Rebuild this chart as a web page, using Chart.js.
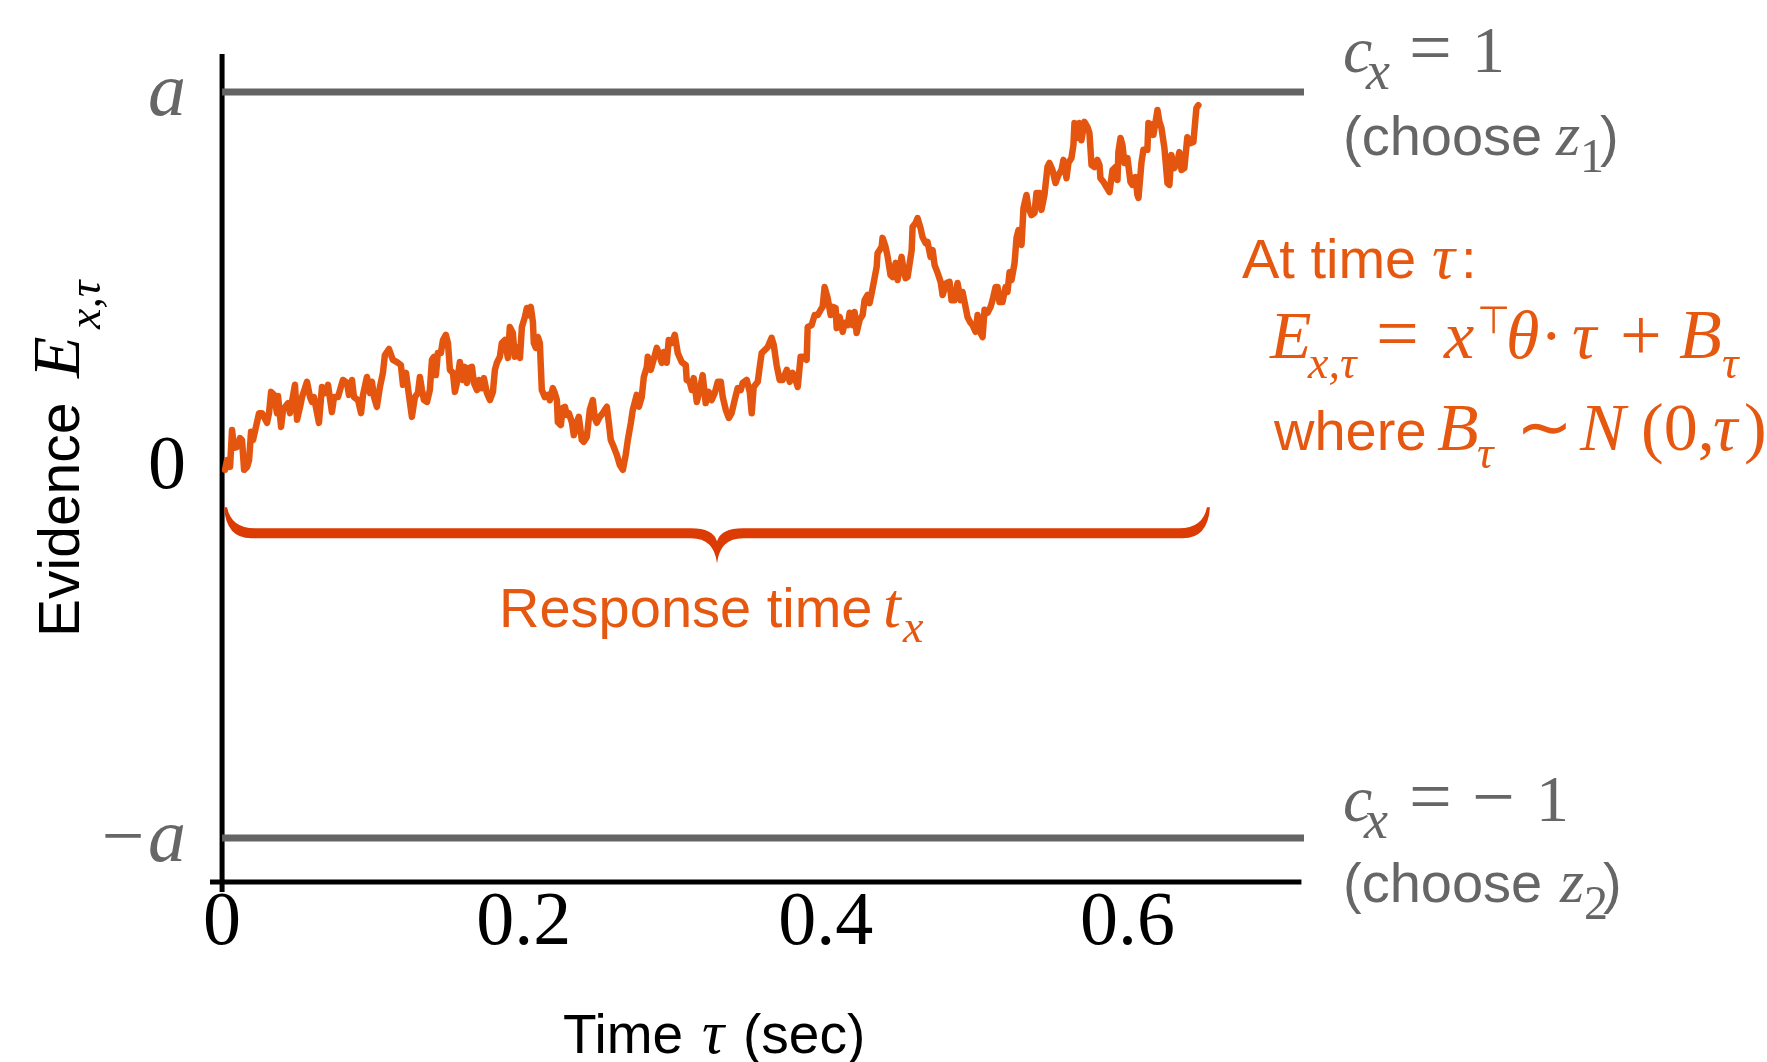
<!DOCTYPE html>
<html>
<head>
  <title>Evidence accumulation</title>
  <style>
html, body { margin: 0; padding: 0; background: #fff; overflow: hidden; }
#evidenceChart { display: block; }
  </style>
  <script src="https://cdn.jsdelivr.net/npm/chart.js@4.4.0/dist/chart.umd.min.js"></script>
</head>
<body>
  <canvas id="evidenceChart" width="1767" height="1062" style="width:1767px;height:1062px;"></canvas>
  <script type="text/javascript">
    // time axis (sec) and its ticks
    var xTicks = [0, 0.2, 0.4, 0.6];
    var xTickText = ['0', '0.2', '0.4', '0.6'];
    // evidence axis, in units of the bound a
    var yTicks = [-1, 0, 1];
    var yTickText = ['\u2212a', '0', 'a'];
    var bounds = [1.008, -0.992];   // +a and -a as drawn
    var boundSpan = [0, 0.717];     // bound lines run from t=0 to the right edge
    var responseSpan = [0.002, 0.654]; // the brace under the path
    var braceLevel = -0.175;

    // evidence path E(x,tau)
    var tSec = [
      0.0020,0.0033,0.0053,0.0066,0.0079,0.0099,0.0119,0.0132,0.0146,0.0166,
      0.0179,0.0192,0.0205,0.0232,0.0245,0.0265,0.0298,0.0311,0.0325,0.0344,
      0.0364,0.0371,0.0391,0.0404,0.0437,0.0450,0.0483,0.0497,0.0517,0.0530,
      0.0563,0.0583,0.0596,0.0609,0.0642,0.0662,0.0682,0.0702,0.0728,0.0742,
      0.0768,0.0801,0.0828,0.0841,0.0861,0.0874,0.0901,0.0921,0.0934,0.0960,
      0.0980,0.0993,0.1007,0.1026,0.1046,0.1066,0.1079,0.1106,0.1132,0.1159,
      0.1185,0.1199,0.1219,0.1238,0.1258,0.1278,0.1298,0.1311,0.1325,0.1338,
      0.1358,0.1377,0.1391,0.1404,0.1417,0.1430,0.1450,0.1464,0.1483,0.1497,
      0.1510,0.1530,0.1543,0.1556,0.1576,0.1596,0.1609,0.1623,0.1636,0.1656,
      0.1669,0.1689,0.1702,0.1722,0.1735,0.1755,0.1775,0.1795,0.1808,0.1821,
      0.1841,0.1854,0.1874,0.1894,0.1907,0.1927,0.1940,0.1954,0.1974,0.1987,
      0.2007,0.2020,0.2033,0.2046,0.2060,0.2066,0.2079,0.2093,0.2106,0.2119,
      0.2139,0.2159,0.2172,0.2192,0.2205,0.2219,0.2225,0.2245,0.2258,0.2272,
      0.2285,0.2298,0.2318,0.2331,0.2351,0.2364,0.2384,0.2397,0.2417,0.2437,
      0.2457,0.2470,0.2483,0.2503,0.2523,0.2536,0.2550,0.2563,0.2576,0.2596,
      0.2616,0.2636,0.2656,0.2675,0.2689,0.2709,0.2722,0.2748,0.2762,0.2781,
      0.2795,0.2815,0.2821,0.2841,0.2854,0.2881,0.2894,0.2914,0.2927,0.2947,
      0.2960,0.2980,0.3000,0.3020,0.3046,0.3073,0.3079,0.3099,0.3113,0.3126,
      0.3146,0.3166,0.3185,0.3205,0.3225,0.3245,0.3265,0.3285,0.3305,0.3318,
      0.3338,0.3358,0.3377,0.3397,0.3417,0.3437,0.3450,0.3477,0.3497,0.3510,
      0.3523,0.3550,0.3563,0.3576,0.3596,0.3616,0.3642,0.3656,0.3675,0.3695,
      0.3715,0.3742,0.3762,0.3781,0.3801,0.3815,0.3834,0.3848,0.3874,0.3881,
      0.3907,0.3927,0.3947,0.3967,0.3980,0.3993,0.4013,0.4033,0.4046,0.4066,
      0.4073,0.4093,0.4113,0.4126,0.4146,0.4159,0.4179,0.4192,0.4205,0.4225,
      0.4245,0.4258,0.4278,0.4291,0.4305,0.4318,0.4338,0.4344,0.4371,0.4377,
      0.4397,0.4411,0.4430,0.4444,0.4464,0.4477,0.4503,0.4517,0.4530,0.4543,
      0.4570,0.4576,0.4596,0.4609,0.4629,0.4642,0.4662,0.4675,0.4695,0.4709,
      0.4722,0.4742,0.4762,0.4775,0.4801,0.4821,0.4834,0.4854,0.4874,0.4894,
      0.4907,0.4927,0.4940,0.4960,0.4974,0.4993,0.5007,0.5026,0.5040,0.5053,
      0.5073,0.5093,0.5106,0.5126,0.5139,0.5152,0.5172,0.5192,0.5205,0.5219,
      0.5232,0.5252,0.5265,0.5278,0.5298,0.5311,0.5331,0.5344,0.5364,0.5384,
      0.5397,0.5417,0.5430,0.5450,0.5470,0.5483,0.5503,0.5523,0.5543,0.5563,
      0.5576,0.5596,0.5609,0.5629,0.5642,0.5649,0.5669,0.5682,0.5695,0.5715,
      0.5735,0.5748,0.5762,0.5781,0.5801,0.5815,0.5821,0.5841,0.5861,0.5881,
      0.5901,0.5921,0.5934,0.5940,0.5954,0.5967,0.5980,0.6000,0.6020,0.6033,
      0.6053,0.6066,0.6073,0.6093,0.6106,0.6132,0.6139,0.6159,0.6172,0.6199,
      0.6212,0.6225,0.6245,0.6265,0.6278,0.6291,0.6311,0.6331,0.6344,0.6358,
      0.6377,0.6397,0.6417,0.6437,0.6457,0.6470
    ];
    var evid = [
      -0.005,0.021,0.003,0.102,0.054,0.056,0.080,0.075,-0.005,0.003,
      0.021,0.097,0.075,0.123,0.147,0.147,0.121,0.147,0.204,0.196,
      0.147,0.193,0.110,0.156,0.174,0.147,0.223,0.129,0.164,0.190,
      0.231,0.190,0.177,0.190,0.121,0.217,0.201,0.223,0.150,0.190,
      0.190,0.236,0.228,0.196,0.236,0.190,0.182,0.147,0.196,0.244,
      0.201,0.231,0.190,0.164,0.217,0.255,0.303,0.319,0.290,0.284,
      0.276,0.223,0.255,0.196,0.137,0.190,0.201,0.244,0.209,0.182,
      0.177,0.209,0.290,0.298,0.249,0.308,0.308,0.343,0.357,0.335,
      0.263,0.255,0.204,0.228,0.284,0.236,0.271,0.228,0.268,0.271,
      0.228,0.209,0.236,0.214,0.241,0.201,0.182,0.204,0.263,0.282,
      0.298,0.335,0.343,0.295,0.378,0.362,0.298,0.324,0.295,0.378,
      0.405,0.429,0.410,0.432,0.391,0.335,0.322,0.351,0.335,0.209,
      0.190,0.196,0.182,0.214,0.201,0.182,0.123,0.115,0.161,0.164,
      0.142,0.147,0.123,0.088,0.123,0.137,0.075,0.070,0.083,0.156,
      0.182,0.134,0.121,0.137,0.147,0.156,0.164,0.121,0.075,0.056,
      0.035,0.008,-0.005,0.035,0.075,0.121,0.156,0.196,0.164,0.190,
      0.244,0.271,0.298,0.263,0.282,0.322,0.308,0.282,0.311,0.282,
      0.343,0.335,0.357,0.308,0.284,0.276,0.236,0.231,0.209,0.241,
      0.177,0.209,0.249,0.174,0.204,0.182,0.201,0.231,0.231,0.190,
      0.156,0.134,0.147,0.182,0.214,0.209,0.228,0.236,0.204,0.147,
      0.217,0.231,0.271,0.308,0.316,0.324,0.349,0.330,0.276,0.236,
      0.236,0.263,0.231,0.255,0.236,0.217,0.298,0.298,0.290,0.378,
      0.383,0.410,0.410,0.424,0.432,0.485,0.456,0.410,0.432,0.429,
      0.375,0.405,0.365,0.389,0.383,0.416,0.383,0.418,0.362,0.397,
      0.410,0.450,0.464,0.442,0.469,0.496,0.539,0.576,0.593,0.617,
      0.593,0.566,0.517,0.512,0.550,0.504,0.566,0.531,0.509,0.512,
      0.584,0.646,0.657,0.670,0.643,0.619,0.603,0.606,0.566,0.584,
      0.544,0.523,0.499,0.464,0.496,0.499,0.450,0.450,0.496,0.450,
      0.472,0.432,0.405,0.389,0.383,0.365,0.410,0.362,0.351,0.424,
      0.416,0.432,0.450,0.485,0.485,0.445,0.445,0.485,0.472,0.525,
      0.504,0.550,0.617,0.638,0.598,0.697,0.732,0.697,0.678,0.684,
      0.737,0.737,0.692,0.732,0.807,0.818,0.799,0.764,0.786,0.799,
      0.826,0.777,0.818,0.831,0.866,0.925,0.885,0.925,0.879,0.928,
      0.914,0.898,0.812,0.807,0.826,0.812,0.777,0.767,0.753,0.740,
      0.799,0.807,0.772,0.847,0.885,0.866,0.818,0.831,0.767,0.759,
      0.780,0.732,0.724,0.820,0.853,0.853,0.925,0.920,0.893,0.960,
      0.928,0.912,0.858,0.764,0.759,0.839,0.804,0.820,0.847,0.799,
      0.804,0.887,0.871,0.874,0.965,0.973
    ];

    var SERIF = '"Liberation Serif", "Times New Roman", serif';
    var SANS = '"Liberation Sans", Arial, Helvetica, sans-serif';
    var GRAY = '#666666';
    var ORANGE = '#E6570F';

    var X_MIN = -0.008, X_MAX = 0.717;
    var Y_MIN = -1.137, Y_MAX = 1.11;
    var X_SPINE_LEVEL = -1.11, X_SPINE_END = 0.7153;

    function put(ctx, s, x, y, font, color) {
      ctx.font = font;
      ctx.fillStyle = color;
      ctx.fillText(s, x, y);
    }

    // offset spines like the original (drawn through the scales)
    var spines = {
      id: 'spines',
      beforeDatasetsDraw: function(chart) {
        var ctx = chart.ctx, xs = chart.scales.x, ys = chart.scales.y;
        ctx.save();
        ctx.strokeStyle = '#000';
        ctx.lineWidth = 5;
        ctx.beginPath();
        var x0 = xs.getPixelForValue(0);
        ctx.moveTo(x0, ys.getPixelForValue(Y_MAX));
        ctx.lineTo(x0, ys.getPixelForValue(Y_MIN));
        var yb = ys.getPixelForValue(X_SPINE_LEVEL);
        ctx.moveTo(xs.getPixelForValue(X_MIN), yb);
        ctx.lineTo(xs.getPixelForValue(X_SPINE_END), yb);
        ctx.stroke();
        ctx.restore();
      }
    };

    var notes = {
      id: 'notes',
      afterDraw: function(chart) {
        var ctx = chart.ctx, xs = chart.scales.x, ys = chart.scales.y;
        ctx.save();

        // brace under the path
        var bx0 = xs.getPixelForValue(responseSpan[0]);
        var bx1 = xs.getPixelForValue(responseSpan[1]);
        var bm = (bx0 + bx1) / 2;
        var by = ys.getPixelForValue(braceLevel);
        var h = 5, r = 26, up = 26, tip = 30;
        ctx.fillStyle = '#DC3B03';
        ctx.beginPath();
        ctx.moveTo(bx0 - 1, by - up);
        ctx.quadraticCurveTo(bx0 + 1, by + h, bx0 + r, by + h);
        ctx.lineTo(bm - r, by + h);
        ctx.quadraticCurveTo(bm - 3, by + h, bm, by + tip);
        ctx.quadraticCurveTo(bm + 3, by + h, bm + r, by + h);
        ctx.lineTo(bx1 - r, by + h);
        ctx.quadraticCurveTo(bx1 - 1, by + h, bx1 + 1, by - up);
        ctx.lineTo(bx1 - 2, by - up);
        ctx.quadraticCurveTo(bx1 - 6, by - h, bx1 - r - 4, by - h);
        ctx.lineTo(bm + r, by - h);
        ctx.quadraticCurveTo(bm + 4, by - h, bm, by + 8);
        ctx.quadraticCurveTo(bm - 4, by - h, bm - r, by - h);
        ctx.lineTo(bx0 + r + 4, by - h);
        ctx.quadraticCurveTo(bx0 + 6, by - h, bx0 + 2, by - up);
        ctx.closePath();
        ctx.fill();

        ctx.textBaseline = 'alphabetic';
        ctx.textAlign = 'left';

        // "Response time t_x"
        put(ctx, 'Response time', 499, 627, '56px ' + SANS, ORANGE);
        put(ctx, 't', 883, 627, 'italic 64px ' + SERIF, ORANGE);
        put(ctx, 'x', 903, 642, 'italic 46px ' + SERIF, ORANGE);

        // upper bound label
        put(ctx, 'c', 1343, 72, 'italic 66px ' + SERIF, GRAY);
        put(ctx, 'x', 1366, 89, 'italic 54px ' + SERIF, GRAY);
        put(ctx, '=', 1409, 73, '76px ' + SERIF, GRAY);
        put(ctx, '1', 1472, 72, '66px ' + SERIF, GRAY);
        put(ctx, '(choose', 1343, 155, '56px ' + SANS, GRAY);
        put(ctx, 'z', 1556, 155, 'italic 62px ' + SERIF, GRAY);
        put(ctx, '1', 1580, 172, '48px ' + SERIF, GRAY);
        put(ctx, ')', 1600, 155, '56px ' + SANS, GRAY);

        // lower bound label
        put(ctx, 'c', 1343, 821, 'italic 66px ' + SERIF, GRAY);
        put(ctx, 'x', 1364, 838, 'italic 54px ' + SERIF, GRAY);
        put(ctx, '=', 1409, 822, '76px ' + SERIF, GRAY);
        put(ctx, '\u2212', 1472, 822, '76px ' + SERIF, GRAY);
        put(ctx, '1', 1536, 821, '66px ' + SERIF, GRAY);
        put(ctx, '(choose', 1343, 902, '56px ' + SANS, GRAY);
        put(ctx, 'z', 1560, 902, 'italic 62px ' + SERIF, GRAY);
        put(ctx, '2', 1584, 919, '48px ' + SERIF, GRAY);
        put(ctx, ')', 1603, 902, '56px ' + SANS, GRAY);

        // model annotation
        put(ctx, 'At time', 1242, 278, '56px ' + SANS, ORANGE);
        put(ctx, '\u03c4', 1432, 278, 'italic 64px ' + SERIF, ORANGE);
        put(ctx, ':', 1461, 278, '56px ' + SANS, ORANGE);

        put(ctx, 'E', 1270, 358, 'italic 68px ' + SERIF, ORANGE);
        put(ctx, 'x,\u03c4', 1308, 378, 'italic 46px ' + SERIF, ORANGE);
        put(ctx, '=', 1376, 359, '76px ' + SERIF, ORANGE);
        put(ctx, 'x', 1444, 358, 'italic 68px ' + SERIF, ORANGE);
        put(ctx, '\u22a4', 1477, 333, '38px "DejaVu Sans", sans-serif', ORANGE);
        put(ctx, '\u03b8', 1506, 358, 'italic 68px ' + SERIF, ORANGE);
        put(ctx, '\u00b7', 1540, 358, '68px ' + SERIF, ORANGE);
        put(ctx, '\u03c4', 1572, 358, 'italic 68px ' + SERIF, ORANGE);
        put(ctx, '+', 1620, 360, '74px ' + SERIF, ORANGE);
        put(ctx, 'B', 1679, 358, 'italic 70px ' + SERIF, ORANGE);
        put(ctx, '\u03c4', 1722, 378, 'italic 46px ' + SERIF, ORANGE);

        put(ctx, 'where', 1274, 450, '56px ' + SANS, ORANGE);
        put(ctx, 'B', 1437, 450, 'italic 68px ' + SERIF, ORANGE);
        put(ctx, '\u03c4', 1477, 468, 'italic 46px ' + SERIF, ORANGE);
        put(ctx, '\u223c', 1516, 450, '68px ' + SERIF, ORANGE);
        put(ctx, 'N', 1580, 450, 'italic 68px ' + SERIF, ORANGE);
        put(ctx, '(0,', 1641, 450, '68px ' + SERIF, ORANGE);
        put(ctx, '\u03c4', 1713, 450, 'italic 68px ' + SERIF, ORANGE);
        put(ctx, ')', 1744, 450, '68px ' + SERIF, ORANGE);

        // axis titles
        put(ctx, 'Time', 563, 1053, '55px ' + SANS, '#000');
        put(ctx, '\u03c4', 702, 1053, 'italic 62px ' + SERIF, '#000');
        put(ctx, '(sec)', 743, 1053, '55px ' + SANS, '#000');

        ctx.translate(79, 637);
        ctx.rotate(-Math.PI / 2);
        put(ctx, 'Evidence', 0, 0, '57px ' + SANS, '#000');
        put(ctx, 'E', 259, 0, 'italic 68px ' + SERIF, '#000');
        put(ctx, 'x,\u03c4', 308, 21, 'italic 46px ' + SERIF, '#000');

        ctx.restore();
      }
    };

    var trace = tSec.map(function(t, i) { return { x: t, y: evid[i] }; });

    var ctx = document.getElementById('evidenceChart').getContext('2d');
    var evidenceChart = new Chart(ctx, {
      type: 'line',
      data: {
        datasets: [
          {
            label: 'upper bound',
            data: [{ x: boundSpan[0], y: bounds[0] }, { x: boundSpan[1], y: bounds[0] }],
            borderColor: '#646464',
            borderWidth: 7,
            pointRadius: 0,
            fill: false
          },
          {
            label: 'lower bound',
            data: [{ x: boundSpan[0], y: bounds[1] }, { x: boundSpan[1], y: bounds[1] }],
            borderColor: '#646464',
            borderWidth: 7,
            pointRadius: 0,
            fill: false
          },
          {
            label: 'evidence',
            data: trace,
            borderColor: '#E4560F',
            borderWidth: 6.5,
            borderJoinStyle: 'round',
            borderCapStyle: 'round',
            pointRadius: 0,
            tension: 0,
            fill: false
          }
        ]
      },
      options: {
        responsive: false,
        animation: false,
        devicePixelRatio: 1,
        layout: { padding: { top: 54, right: 463, left: 0, bottom: 0 } },
        plugins: {
          legend: { display: false },
          tooltip: { enabled: false }
        },
        scales: {
          x: {
            type: 'linear',
            min: X_MIN,
            max: X_MAX,
            grid: { display: false, drawTicks: false },
            border: { display: false },
            afterBuildTicks: function(scale) {
              scale.ticks = xTicks.map(function(v) { return { value: v }; });
            },
            afterFit: function(scale) {
              scale.height = 170;
              scale.paddingLeft = 0;
              scale.paddingRight = 0;
            },
            ticks: {
              autoSkip: false,
              maxRotation: 0,
              padding: -14,
              color: '#000',
              font: { family: SERIF, size: 76 },
              callback: function(v) { return xTickText[xTicks.indexOf(v)]; }
            }
          },
          y: {
            type: 'linear',
            min: Y_MIN,
            max: Y_MAX,
            grid: { display: false, drawTicks: false },
            border: { display: false },
            afterBuildTicks: function(scale) {
              scale.ticks = yTicks.map(function(v) { return { value: v }; });
            },
            afterFit: function(scale) {
              scale.width = 210;
              scale.paddingTop = 0;
              scale.paddingBottom = 0;
            },
            ticks: {
              autoSkip: false,
              padding: 24,
              color: function(c) { return c.tick && c.tick.value === 0 ? '#000' : GRAY; },
              font: function(c) {
                return { family: SERIF, size: 76, style: (c.tick && c.tick.value !== 0) ? 'italic' : 'normal' };
              },
              callback: function(v) { return yTickText[yTicks.indexOf(v)]; }
            }
          }
        }
      },
      plugins: [spines, notes]
    });
  </script>
</body>
</html>
